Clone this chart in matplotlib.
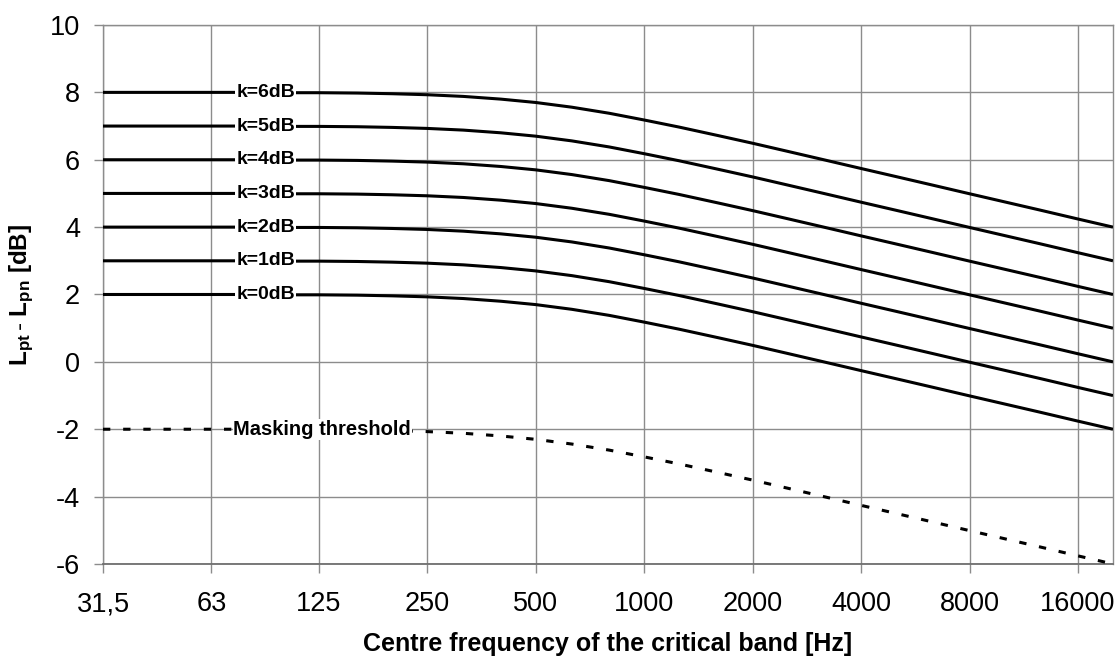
import matplotlib
matplotlib.use("Agg")
import matplotlib.pyplot as plt
from matplotlib.ticker import FixedLocator, FixedFormatter, NullLocator

plt.rcParams['font.family'] = ['Liberation Sans', 'DejaVu Sans']
plt.rcParams['mathtext.fontset'] = 'custom'
plt.rcParams['mathtext.rm'] = 'Liberation Sans'
plt.rcParams['mathtext.bf'] = 'Liberation Sans:bold'
plt.rcParams['mathtext.it'] = 'Liberation Sans:italic'

# Third-octave band centre frequencies [Hz]
freqs = [31.5, 40, 50, 63, 80, 100, 125, 160, 200, 250, 315, 400, 500, 630, 800,
         1000, 1250, 1600, 2000, 2500, 3150, 4000, 5000, 6300, 8000, 10000,
         12500, 16000, 20000]

masking = [-2.00, -2.00, -2.00, -2.00, -2.00, -2.01, -2.01, -2.02, -2.04, -2.07,
           -2.12, -2.20, -2.30, -2.44, -2.62, -2.82, -3.03, -3.28, -3.51, -3.75,
           -4.00, -4.26, -4.50, -4.75, -5.01, -5.25, -5.49, -5.76, -6.00]

k0 = [2.00, 2.00, 2.00, 2.00, 2.00, 1.99, 1.99, 1.98, 1.96, 1.93, 1.88, 1.80, 1.70,
      1.56, 1.38, 1.18, 0.97, 0.72, 0.49, 0.25, 0.00, -0.26, -0.50, -0.75, -1.01,
      -1.25, -1.49, -1.76, -2.00]
k1 = [3.00, 3.00, 3.00, 3.00, 3.00, 2.99, 2.99, 2.98, 2.96, 2.93, 2.88, 2.80, 2.70,
      2.56, 2.38, 2.18, 1.97, 1.72, 1.49, 1.25, 1.00, 0.74, 0.50, 0.25, -0.01,
      -0.25, -0.49, -0.76, -1.00]
k2 = [4.00, 4.00, 4.00, 4.00, 4.00, 3.99, 3.99, 3.98, 3.96, 3.93, 3.88, 3.80, 3.70,
      3.56, 3.38, 3.18, 2.97, 2.72, 2.49, 2.25, 2.00, 1.74, 1.50, 1.25, 0.99,
      0.75, 0.51, 0.24, 0.00]
k3 = [5.00, 5.00, 5.00, 5.00, 5.00, 4.99, 4.99, 4.98, 4.96, 4.93, 4.88, 4.80, 4.70,
      4.56, 4.38, 4.18, 3.97, 3.72, 3.49, 3.25, 3.00, 2.74, 2.50, 2.25, 1.99,
      1.75, 1.51, 1.24, 1.00]
k4 = [6.00, 6.00, 6.00, 6.00, 6.00, 5.99, 5.99, 5.98, 5.96, 5.93, 5.88, 5.80, 5.70,
      5.56, 5.38, 5.18, 4.97, 4.72, 4.49, 4.25, 4.00, 3.74, 3.50, 3.25, 2.99,
      2.75, 2.51, 2.24, 2.00]
k5 = [7.00, 7.00, 7.00, 7.00, 7.00, 6.99, 6.99, 6.98, 6.96, 6.93, 6.88, 6.80, 6.70,
      6.56, 6.38, 6.18, 5.97, 5.72, 5.49, 5.25, 5.00, 4.74, 4.50, 4.25, 3.99,
      3.75, 3.51, 3.24, 3.00]
k6 = [8.00, 8.00, 8.00, 8.00, 8.00, 7.99, 7.99, 7.98, 7.96, 7.93, 7.88, 7.80, 7.70,
      7.56, 7.38, 7.18, 6.97, 6.72, 6.49, 6.25, 6.00, 5.74, 5.50, 5.25, 4.99,
      4.75, 4.51, 4.24, 4.00]

k_series = [k0, k1, k2, k3, k4, k5, k6]
k_labels = ["k=0dB", "k=1dB", "k=2dB", "k=3dB", "k=4dB", "k=5dB", "k=6dB"]
mask_label = "Masking threshold"

tick_freqs = [31.5, 63, 125, 250, 500, 1000, 2000, 4000, 8000, 16000]
tick_labels = ["31,5", "63", "125", "250", "500", "1000", "2000", "4000", "8000", "16000"]
y_ticks = [-6, -4, -2, 0, 2, 4, 6, 8, 10]

fig = plt.figure(figsize=(11.17, 6.58), dpi=100)
ax = fig.add_axes([0.0922, 0.1429, 0.9042, 0.8191])

ax.set_xscale('log', base=2)
ax.set_xlim(31.5, 20000)
ax.set_ylim(-6, 10)

grid_c = '#8c8c8c'
for yv in y_ticks:
    ax.axhline(yv, color=grid_c, lw=1.0, zorder=1)
for xv in tick_freqs:
    ax.axvline(xv, color=grid_c, lw=1.0, zorder=1)

for ser in k_series:
    ax.plot(freqs, ser, color='black', lw=2.2, zorder=3, solid_capstyle='butt')
ax.plot(freqs, masking, color='black', lw=2.2, zorder=3, dashes=(2.4, 4.2))

label_x = 89.0
for ser, lab in zip(k_series, k_labels):
    ax.text(label_x, ser[0], lab, ha='center', va='center', fontsize=14,
            fontweight='bold', zorder=5,
            bbox=dict(facecolor='white', edgecolor='none', pad=0.6))
ax.text(72.5, masking[0], mask_label, ha='left', va='center', fontsize=14.5,
        fontweight='bold', zorder=5,
        bbox=dict(facecolor='white', edgecolor='none', pad=0.6))

ax.xaxis.set_major_locator(FixedLocator(tick_freqs))
ax.xaxis.set_major_formatter(FixedFormatter(tick_labels))
ax.xaxis.set_minor_locator(NullLocator())
ax.set_yticks(y_ticks)
ax.set_yticklabels([str(v) for v in y_ticks])

ax.tick_params(axis='both', which='major', labelsize=19.5, color=grid_c,
               length=6.5, width=1.0, direction='out')
ax.tick_params(axis='x', pad=13)
ax.tick_params(axis='y', pad=10)

for side in ['top', 'right', 'left']:
    ax.spines[side].set_color(grid_c)
    ax.spines[side].set_linewidth(1.0)
ax.spines['bottom'].set_color('#6e6e6e')
ax.spines['bottom'].set_linewidth(1.3)

ax.set_xlabel("Centre frequency of the critical band [Hz]", fontsize=18,
              fontweight='bold', va='top')
ax.xaxis.set_label_coords(0.5, -0.127)
ax.set_ylabel(r"$\mathbf{L_{pt}\,\text{-}\ L_{pn}\ [dB]}$", fontsize=17.5, va='center')
ax.yaxis.set_label_coords(-0.080, 0.5)

fig.savefig("out.png", dpi=100, facecolor='white')
